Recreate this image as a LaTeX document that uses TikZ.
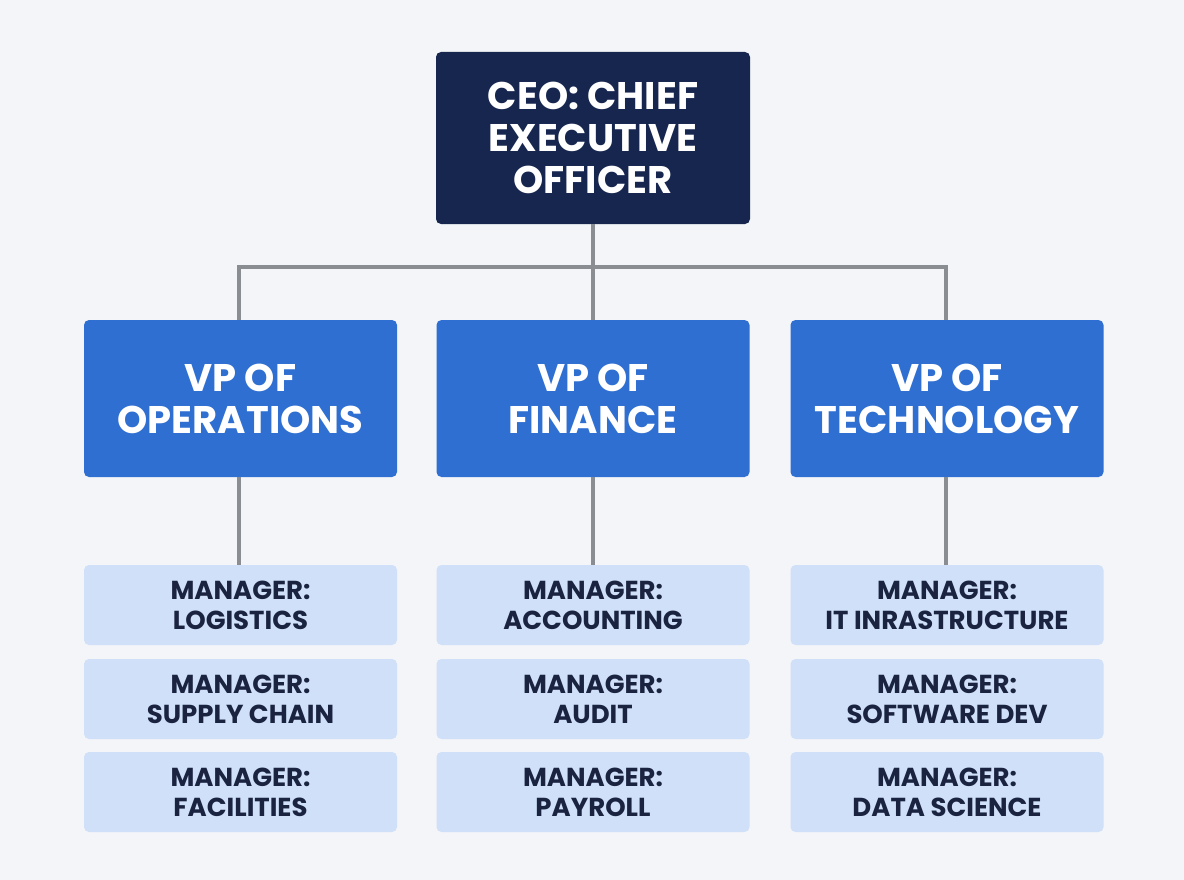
\documentclass[tikz,border=0pt]{standalone}
\usepackage{fontspec}
\setmainfont{Poppins}
\definecolor{bg}{HTML}{F3F5F8}
\definecolor{ceo}{HTML}{16264F}
\definecolor{vp}{HTML}{2F6FD1}
\definecolor{mgr}{HTML}{CFE0F8}
\definecolor{mgrtext}{HTML}{1A2340}
\definecolor{wire}{HTML}{8A8D92}
\tikzset{
  box/.style={rounded corners=5pt, align=center, inner sep=0pt, font=\bfseries},
  ceobox/.style={box, fill=ceo, text=white, minimum width=314pt, minimum height=172pt, font=\bfseries\fontsize{38.5}{42}\selectfont},
  vpbox/.style={box, fill=vp, text=white, minimum width=313pt, minimum height=157pt, font=\bfseries\fontsize{38.5}{42}\selectfont},
  mgrbox/.style={box, fill=mgr, text=mgrtext, minimum width=313pt, minimum height=80pt, font=\bfseries\fontsize{26}{30}\selectfont},
  link/.style={draw=wire, line width=4pt}
}
\begin{document}
\begin{tikzpicture}[x=1pt,y=-1pt]
\fill[bg] (0,0) rectangle (1184,880);
\useasboundingbox (0,0) rectangle (1184,880);
\node[ceobox] (ceo) at (593,138) {CEO: CHIEF\\EXECUTIVE\\OFFICER};
\node[vpbox] (vp1) at (240.5,398.5) {VP OF\\OPERATIONS};
\node[vpbox] (vp2) at (593,398.5) {VP OF\\FINANCE};
\node[vpbox] (vp3) at (947,398.5) {VP OF\\TECHNOLOGY};
\node[mgrbox] (m11) at (240.5,605) {MANAGER:\\LOGISTICS};
\node[mgrbox] (m12) at (240.5,699) {MANAGER:\\SUPPLY CHAIN};
\node[mgrbox] (m13) at (240.5,792) {MANAGER:\\FACILITIES};
\node[mgrbox] (m21) at (593,605) {MANAGER:\\ACCOUNTING};
\node[mgrbox] (m22) at (593,699) {MANAGER:\\AUDIT};
\node[mgrbox] (m23) at (593,792) {MANAGER:\\PAYROLL};
\node[mgrbox] (m31) at (947,605) {MANAGER:\\IT INRASTRUCTURE};
\node[mgrbox] (m32) at (947,699) {MANAGER:\\SOFTWARE DEV};
\node[mgrbox] (m33) at (947,792) {MANAGER:\\DATA SCIENCE};
\coordinate (bus) at (593,267);
\path[link] (ceo.south) -- (vp2.north);
\path[link] (vp1.north -| 239,0) |- (bus) -| (vp3.north -| 946,0);
\path[link] (vp1.south -| 239,0) -- (m11.north -| 239,0);
\path[link] (vp2.south) -- (m21.north);
\path[link] (vp3.south -| 946,0) -- (m31.north -| 946,0);
\end{tikzpicture}
\end{document}
